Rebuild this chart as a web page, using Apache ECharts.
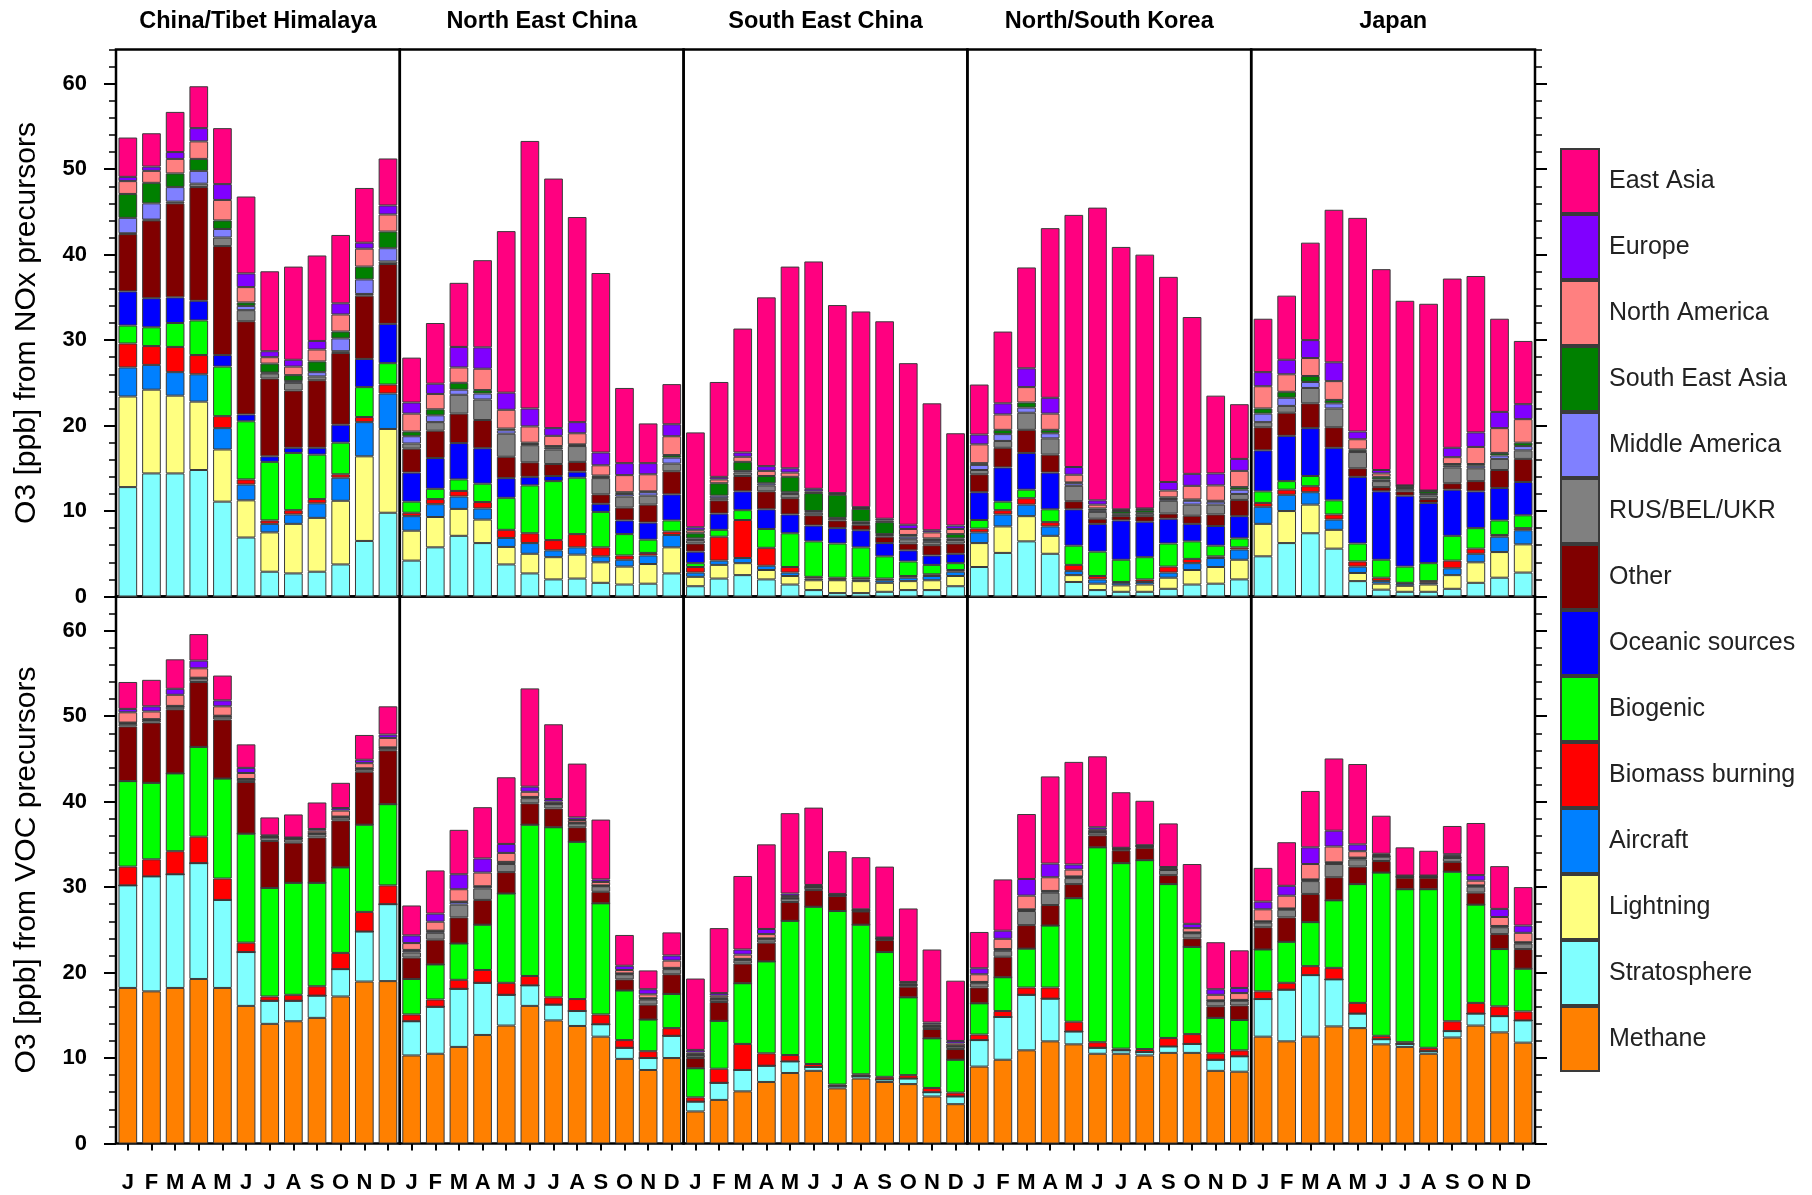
<!DOCTYPE html>
<html>
<head>
<meta charset="utf-8">
<script src="https://cdn.jsdelivr.net/npm/echarts@6/dist/echarts.min.js"></script>
<style>
  html, body { margin: 0; padding: 0; background: #ffffff; }
  #chart { width: 1812px; height: 1195px; }
</style>
</head>
<body>
<div id="chart"></div>
<script>
// ---- categories and labels ----
const MONTHS = ['Jan','Feb','Mar','Apr','May','Jun','Jul','Aug','Sep','Oct','Nov','Dec'];
const MONTH_LABELS = ['J','F','M','A','M','J','J','A','S','O','N','D'];
const REGIONS = ['China/Tibet Himalaya','North East China','South East China','North/South Korea','Japan'];
const ROW_TITLES = ['O3 [ppb] from NOx precursors','O3 [ppb] from VOC precursors'];
const Y_TICKS = [0,10,20,30,40,50,60];

// stacking order, bottom to top
const SOURCES = ['Methane','Stratosphere','Lightning','Aircraft','Biomass burning','Biogenic',
  'Oceanic sources','Other','RUS/BEL/UKR','Middle America','South East Asia','North America','Europe','East Asia'];
const COLORS = ['#FF8000','#80FFFF','#FFFF80','#0080FF','#FF0000','#00FF00',
  '#0000FF','#800000','#808080','#8080FF','#008000','#FF8080','#8000FF','#FF0080'];

const Z = [0,0,0,0,0,0,0,0,0,0,0,0];

// ---- O3 from NOx precursors (ppb), one row per source in SOURCES order ----
const noxChinaTibet = [
  Z,
  [12.8,14.4,14.4,14.8,11.1,6.9,2.9,2.7,2.9,3.75,6.5,9.8],
  [10.6,9.8,9.1,8.0,6.1,4.35,4.6,5.8,6.3,7.45,9.9,9.8],
  [3.4,2.9,2.75,3.2,2.5,1.85,1.0,1.1,1.7,2.7,4.0,4.15],
  [2.8,2.2,2.95,2.25,1.4,0.6,0.4,0.5,0.5,0.4,0.6,1.05],
  [2.1,2.2,2.8,4.05,5.8,6.8,6.85,6.7,5.2,3.7,3.5,2.5],
  [4.0,3.4,3.0,2.3,1.35,0.8,0.65,0.6,0.8,2.1,3.3,4.6],
  [6.7,9.1,11.0,13.3,12.75,10.9,9.1,6.7,7.9,8.4,7.4,7.0],
  [0.1,0.1,0.2,0.4,1.0,1.3,0.6,0.9,0.45,0.2,0.2,0.3],
  [1.8,1.9,1.7,1.5,1.0,0.5,0.1,0.2,0.5,1.5,1.7,1.55],
  [2.8,2.4,1.6,1.4,1.0,0.4,1.05,0.7,1.25,0.8,1.5,1.95],
  [1.5,1.4,1.7,2.05,2.4,1.8,0.75,1.0,1.4,2.0,2.1,2.0],
  [0.5,0.5,0.8,1.55,1.85,1.6,0.7,0.8,1.0,1.3,0.7,1.05],
  [4.6,3.9,4.7,4.9,6.55,9.0,9.35,10.9,10.0,8.0,6.4,5.5]
];
const noxNEChina = [
  Z,
  [4.2,5.75,7.1,6.25,3.75,2.7,2.0,2.1,1.6,1.4,1.5,2.7],
  [3.5,3.55,3.15,2.75,2.05,2.3,2.6,2.8,2.4,2.1,2.3,3.05],
  [1.7,1.5,1.45,1.3,1.05,1.25,0.8,0.85,0.7,0.8,1.0,1.45],
  [0.4,0.6,0.65,0.75,0.95,1.15,1.2,1.55,1.05,0.5,0.3,0.4],
  [1.3,1.2,1.35,2.15,3.75,5.6,6.9,6.6,4.15,2.5,1.55,1.3],
  [3.4,3.6,4.25,4.15,2.3,1.0,0.6,0.7,0.95,1.6,2.0,3.05],
  [2.8,3.2,3.45,3.3,2.5,1.7,1.4,1.15,1.1,1.5,2.1,2.7],
  [0.6,1.0,2.2,2.4,2.7,2.0,1.7,1.85,1.9,1.3,1.05,0.9],
  [0.85,0.8,0.6,0.7,0.4,0.15,0.2,0.1,0.15,0.3,0.4,0.7],
  [0.55,0.7,0.8,0.4,0.2,0.15,0.2,0.1,0.15,0.2,0.1,0.3],
  [2.1,1.8,1.8,2.5,2.2,1.9,1.2,1.3,1.2,2.0,2.0,2.2],
  [1.3,1.2,2.4,2.5,2.0,2.1,0.9,1.3,1.5,1.4,1.3,1.4],
  [5.25,7.1,7.5,10.2,18.9,31.3,29.2,24.0,21.0,8.8,4.65,4.7]
];
const noxSEChina = [
  Z,
  [1.2,2.1,2.5,2.0,1.4,0.75,0.4,0.4,0.55,0.75,0.75,1.2],
  [1.1,1.6,1.4,1.1,1.0,1.15,1.5,1.4,1.05,1.05,1.15,1.2],
  [0.5,0.5,0.6,0.5,0.4,0.2,0.1,0.2,0.3,0.4,0.5,0.5],
  [0.65,2.8,4.45,2.1,0.65,0.2,0.2,0.2,0.2,0.2,0.2,0.2],
  [0.45,0.8,1.15,2.2,3.95,4.15,4.0,3.55,2.6,1.7,1.1,0.8],
  [1.35,1.9,2.2,2.3,2.2,1.85,1.8,2.0,1.55,1.3,1.1,1.1],
  [0.95,1.55,1.8,2.1,1.9,1.2,0.9,0.65,0.75,0.8,1.2,1.2],
  [0.4,0.25,0.4,0.7,0.5,0.3,0.2,0.2,0.2,0.5,0.4,0.4],
  [0.2,0.3,0.2,0.25,0.2,0.2,0.1,0.15,0.1,0.3,0.2,0.2],
  [0.6,1.45,1.05,0.85,1.8,2.1,2.7,1.5,1.4,0.2,0.2,0.5],
  [0.35,0.45,0.6,0.6,0.5,0.2,0.1,0.1,0.2,0.7,0.7,0.6],
  [0.35,0.3,0.5,0.55,0.5,0.3,0.1,0.1,0.2,0.5,0.25,0.4],
  [11.1,11.1,14.5,19.75,23.6,26.6,22.0,22.9,23.1,18.9,14.85,10.8]
];
const noxKorea = [
  Z,
  [3.45,5.1,6.45,5.0,1.7,0.75,0.55,0.55,0.9,1.4,1.5,2.0],
  [2.8,3.1,2.95,2.1,0.8,0.75,0.75,0.85,1.3,1.7,1.95,2.3],
  [1.25,1.4,1.35,1.1,0.5,0.5,0.3,0.3,0.6,0.8,1.05,1.2],
  [0.45,0.5,0.75,0.5,0.7,0.4,0.1,0.3,0.7,0.5,0.2,0.25],
  [1.0,1.0,1.0,1.5,2.25,2.85,2.6,2.6,2.7,2.05,1.25,1.05],
  [3.25,4.0,4.3,4.3,4.25,3.25,4.6,4.15,2.9,2.05,2.3,2.6],
  [2.1,2.3,2.7,2.1,0.95,0.6,0.5,0.65,0.6,0.95,1.35,1.9],
  [0.5,0.8,2.0,1.9,1.8,0.8,0.2,0.3,1.5,1.3,1.15,0.7],
  [0.6,0.8,0.6,0.6,0.3,0.2,0.1,0.1,0.2,0.45,0.35,0.5],
  [0.2,0.5,0.6,0.4,0.1,0.2,0.3,0.3,0.2,0.15,0.1,0.3],
  [2.2,1.8,1.8,1.9,0.9,0.45,0.1,0.1,0.8,1.6,1.8,1.9],
  [1.15,1.3,2.2,1.85,0.9,0.5,0.1,0.1,1.0,1.4,1.4,1.4],
  [5.85,8.4,11.8,19.85,29.5,34.25,30.7,29.7,24.0,18.35,9.1,6.4]
];
const noxJapan = [
  Z,
  [4.7,6.25,7.4,5.6,1.8,0.8,0.55,0.55,0.9,1.6,2.2,2.8],
  [3.8,3.75,3.35,2.2,0.95,0.7,0.7,0.85,1.6,2.4,3.0,3.3],
  [2.0,1.9,1.45,1.2,0.75,0.3,0.25,0.2,0.8,1.0,1.8,1.65],
  [0.45,0.6,0.7,0.6,0.6,0.4,0.1,0.2,0.9,0.6,0.2,0.25],
  [1.35,1.0,1.2,1.65,2.1,2.1,1.9,2.1,2.9,2.4,1.7,1.5],
  [4.8,5.3,5.6,6.15,7.8,8.0,8.3,7.05,5.4,4.3,3.8,3.9],
  [2.7,2.7,2.9,2.4,1.0,0.5,0.5,0.45,0.75,1.2,2.1,2.7],
  [0.6,0.8,1.8,2.2,1.9,0.7,0.3,0.4,1.85,1.5,1.3,1.0],
  [1.0,0.95,0.7,0.6,0.15,0.2,0.1,0.2,0.2,0.3,0.4,0.5],
  [0.6,0.7,0.7,0.4,0.15,0.3,0.2,0.3,0.2,0.2,0.3,0.4],
  [2.6,2.05,2.1,2.2,1.2,0.4,0.05,0.05,0.8,2.0,2.9,2.75],
  [1.65,1.7,2.1,2.2,0.9,0.4,0.05,0.05,1.1,1.7,1.9,1.75],
  [6.25,7.5,11.4,17.85,25.0,23.5,21.6,21.85,19.8,18.3,10.9,7.4]
];

// ---- O3 from VOC precursors (ppb), one row per source in SOURCES order ----
const vocChinaTibet = [
  [18.2,17.8,18.2,19.25,18.2,16.1,14.0,14.3,14.7,17.2,18.95,19.0],
  [12.0,13.45,13.3,13.55,10.3,6.3,2.7,2.4,2.6,3.2,5.85,9.0],
  Z,
  Z,
  [2.2,2.0,2.7,3.1,2.5,1.1,0.5,0.7,1.1,1.9,2.3,2.2],
  [10.0,8.95,9.1,10.5,11.7,12.75,12.7,13.1,12.1,10.0,10.2,9.5],
  Z,
  [6.4,7.05,7.5,7.6,6.9,6.05,5.5,4.7,5.3,5.5,6.2,6.3],
  [0.3,0.3,0.3,0.4,0.35,0.25,0.4,0.4,0.4,0.35,0.3,0.25],
  [0.1,0.05,0.05,0.05,0.05,0.05,0.05,0.05,0.05,0.05,0.05,0.05],
  [0.05,0.05,0.05,0.05,0.05,0.05,0.05,0.05,0.05,0.05,0.05,0.05],
  [1.2,0.9,1.3,1.1,1.1,0.7,0.05,0.05,0.3,0.7,0.6,1.1],
  [0.4,0.6,0.7,0.9,0.7,0.6,0.1,0.05,0.2,0.3,0.4,0.4],
  [3.15,3.1,3.45,3.1,2.9,2.75,2.1,2.7,3.1,2.95,2.9,3.3]
];
const vocNEChina = [
  [10.3,10.5,11.3,12.7,13.8,16.1,14.4,13.75,12.5,9.9,8.6,10.0],
  [4.0,5.5,6.8,6.1,3.6,2.4,1.85,1.75,1.45,1.3,1.4,2.6],
  Z,
  Z,
  [0.8,0.85,1.05,1.5,1.4,1.1,0.85,1.4,1.15,0.9,0.8,0.9],
  [4.15,4.1,4.25,5.3,10.45,17.7,19.9,18.4,13.0,5.8,3.7,4.0],
  Z,
  [2.5,2.9,3.05,2.9,2.5,2.5,2.2,1.7,1.35,1.3,1.75,2.3],
  [0.6,0.8,1.5,1.35,0.95,0.6,0.5,0.45,0.65,0.6,0.6,0.6],
  [0.2,0.2,0.3,0.2,0.2,0.1,0.05,0.05,0.05,0.05,0.1,0.1],
  [0.1,0.05,0.05,0.05,0.05,0.05,0.05,0.05,0.05,0.05,0.05,0.05],
  [0.8,1.05,1.45,1.6,1.05,0.6,0.2,0.3,0.4,0.4,0.45,0.85],
  [0.9,0.95,1.75,1.65,1.05,0.6,0.3,0.3,0.3,0.5,0.6,0.6],
  [3.5,5.05,5.2,6.0,7.8,11.5,8.75,6.3,7.0,3.6,2.2,2.7]
];
const vocSEChina = [
  [3.75,5.1,6.1,7.2,8.25,8.5,6.45,7.6,7.2,6.95,5.5,4.6],
  [1.15,2.0,2.5,1.9,1.35,0.45,0.3,0.3,0.3,0.65,0.5,0.9],
  Z,
  Z,
  [0.5,1.65,3.05,1.45,0.75,0.35,0.15,0.2,0.3,0.4,0.5,0.45],
  [3.4,5.6,7.1,10.75,15.7,18.4,20.3,17.5,14.6,9.1,5.8,3.85],
  Z,
  [1.2,2.2,2.3,2.2,2.2,1.95,1.75,1.55,1.4,1.25,1.1,1.25],
  [0.3,0.3,0.4,0.4,0.4,0.3,0.05,0.05,0.1,0.15,0.25,0.3],
  [0.05,0.05,0.05,0.05,0.05,0.05,0.05,0.05,0.05,0.05,0.05,0.05],
  [0.1,0.15,0.1,0.05,0.05,0.05,0.05,0.05,0.05,0.05,0.05,0.05],
  [0.2,0.25,0.5,0.5,0.2,0.1,0.05,0.05,0.05,0.15,0.2,0.25],
  [0.3,0.3,0.6,0.6,0.3,0.1,0.05,0.05,0.05,0.15,0.2,0.3],
  [8.35,7.6,8.6,9.9,9.4,9.05,5.0,6.1,8.3,8.6,8.55,7.05]
];
const vocKorea = [
  [9.0,9.8,10.9,11.95,11.6,10.5,10.5,10.3,10.6,10.6,8.5,8.4],
  [3.1,5.0,6.5,5.0,1.5,0.7,0.4,0.4,0.75,1.05,1.3,1.8],
  Z,
  Z,
  [0.65,0.7,0.85,1.3,1.15,0.65,0.2,0.35,1.0,1.15,0.75,0.7],
  [3.65,3.95,4.55,7.25,14.45,22.8,21.7,22.1,18.0,10.2,4.15,3.55],
  Z,
  [1.85,2.4,2.75,2.4,1.65,1.4,1.5,1.45,1.05,1.0,1.35,1.7],
  [0.5,0.7,1.65,1.45,0.7,0.35,0.1,0.1,0.6,0.6,0.6,0.55],
  [0.1,0.15,0.15,0.15,0.15,0.05,0.05,0.05,0.05,0.05,0.05,0.05],
  [0.05,0.05,0.05,0.05,0.05,0.05,0.05,0.05,0.05,0.05,0.05,0.05],
  [0.9,1.2,1.6,1.6,0.8,0.2,0.05,0.05,0.1,0.5,0.65,0.8],
  [0.7,0.95,1.95,1.6,0.6,0.3,0.05,0.05,0.15,0.5,0.65,0.6],
  [4.25,6.0,7.6,10.2,12.0,8.3,6.5,5.2,5.1,7.0,5.5,4.4]
];
const vocJapan = [
  [12.5,11.95,12.5,13.7,13.5,11.6,11.3,10.5,12.4,13.8,13.0,11.8],
  [4.4,6.05,7.2,5.5,1.7,0.6,0.35,0.3,0.75,1.4,1.9,2.6],
  Z,
  Z,
  [0.9,0.8,1.05,1.35,1.25,0.4,0.2,0.4,1.15,1.25,1.15,1.05],
  [4.9,4.8,5.15,7.9,13.9,19.1,17.9,18.55,17.5,11.5,6.7,5.0],
  Z,
  [2.6,2.85,3.3,2.7,2.05,1.35,1.35,1.35,1.15,1.4,1.75,2.3],
  [0.55,0.9,1.5,1.55,0.85,0.5,0.05,0.05,0.45,0.7,0.8,0.65],
  [0.1,0.1,0.15,0.15,0.15,0.05,0.05,0.05,0.05,0.1,0.1,0.1],
  [0.05,0.05,0.05,0.05,0.05,0.05,0.05,0.05,0.05,0.05,0.05,0.05],
  [1.4,1.5,1.8,1.85,0.75,0.1,0.05,0.05,0.15,0.55,1.05,1.1],
  [0.9,1.15,1.95,1.85,0.8,0.15,0.05,0.05,0.2,0.65,0.95,0.85],
  [3.95,5.1,6.6,8.45,9.4,4.45,3.3,2.9,3.3,6.1,5.0,4.5]
];

const PANELS = [
  [noxChinaTibet, noxNEChina, noxSEChina, noxKorea, noxJapan],
  [vocChinaTibet, vocNEChina, vocSEChina, vocKorea, vocJapan]
];

// ---- layout ----
const FONT = '"Liberation Sans", Arial, Helvetica, sans-serif';
const LEFT = 116, PW = 283.8, PH = 547, TOPS = [49.5, 596.5], YMAX = 64;
const NCOL = 5;

const grids = [], xAxes = [], yAxes = [], series = [];
const extraAxes = [];

for (let r = 0; r < 2; r++) {
  for (let c = 0; c < NCOL; c++) {
    const g = r * NCOL + c;
    grids.push({
      left: LEFT + c * PW, top: TOPS[r], width: PW, height: PH,
      show: true, borderColor: '#000', borderWidth: 2.5, backgroundColor: 'transparent'
    });
    xAxes.push({
      type: 'category', gridIndex: g, data: MONTHS,
      axisLine: { show: false },
      axisTick: { show: r === 1, inside: false, length: 7, alignWithLabel: true, interval: 0,
        lineStyle: { color: '#000', width: 2 } },
      axisLabel: { show: r === 1, interval: 0, hideOverlap: false,
        formatter: (v, i) => MONTH_LABELS[i],
        fontFamily: FONT, fontSize: 22, fontWeight: 'bold', color: '#000', margin: 28 }
    });
    yAxes.push({
      type: 'value', gridIndex: g, position: 'left', min: 0, max: YMAX, interval: 10,
      axisLine: { show: false }, splitLine: { show: false },
      axisTick: { show: c === 0, length: 12, customValues: Y_TICKS,
        lineStyle: { color: '#000', width: 2 } },
      axisLabel: { show: c === 0, customValues: Y_TICKS,
        formatter: v => (v % 10 === 0 && v <= 60 ? String(v) : ''),
        fontFamily: FONT, fontSize: 22, fontWeight: 'bold', color: '#000', margin: 29 }
    });
    if (c === 0 || c === NCOL - 1) {
      const side = c === 0 ? 'left' : 'right';
      // short ticks every 2 ppb
      extraAxes.push({
        type: 'value', gridIndex: g, position: side, min: 0, max: YMAX, interval: 2,
        axisLine: { show: false }, splitLine: { show: false }, axisLabel: { show: false },
        axisTick: { show: true, length: 7, lineStyle: { color: '#000', width: 1.5 } }
      });
    }
    if (c === NCOL - 1) {
      // long ticks every 10 ppb on the right edge
      extraAxes.push({
        type: 'value', gridIndex: g, position: 'right', min: 0, max: YMAX, interval: 10,
        axisLine: { show: false }, splitLine: { show: false }, axisLabel: { show: false },
        axisTick: { show: true, length: 12, customValues: Y_TICKS,
          lineStyle: { color: '#000', width: 2 } }
      });
    }
    const panel = PANELS[r][c];
    SOURCES.forEach((name, k) => {
      series.push({
        type: 'bar', name: name, stack: 'panel' + g,
        xAxisIndex: g, yAxisIndex: g,
        data: panel[k],
        barCategoryGap: '21%',
        itemStyle: { color: COLORS[k], borderColor: '#3a3a3a', borderWidth: 1 },
        emphasis: { disabled: true },
        animation: false
      });
    });
  }
}

const graphics = [];
REGIONS.forEach((name, c) => {
  graphics.push({
    type: 'text', x: LEFT + (c + 0.5) * PW, y: 22,
    style: { text: name, fontFamily: FONT, fontSize: 23.5, fontWeight: 'bold', fill: '#000',
      textAlign: 'center', textVerticalAlign: 'middle' }
  });
});
ROW_TITLES.forEach((txt, r) => {
  graphics.push({
    type: 'text', x: 27, y: TOPS[r] + PH / 2, rotation: Math.PI / 2,
    style: { text: txt, fontFamily: FONT, fontSize: 30, fill: '#000',
      textAlign: 'center', textVerticalAlign: 'middle' }
  });
});

const chart = echarts.init(document.getElementById('chart'), null, { renderer: 'canvas' });
chart.setOption({
  backgroundColor: '#ffffff',
  animation: false,
  grid: grids,
  xAxis: xAxes,
  yAxis: yAxes.concat(extraAxes),
  series: series,
  legend: {
    orient: 'vertical', left: 1555, top: 143,
    data: SOURCES.slice().reverse(),
    icon: 'rect', itemWidth: 38, itemHeight: 64, itemGap: 0,
    selectedMode: false,
    textStyle: { fontFamily: FONT, fontSize: 25, color: '#222', padding: [0, 0, 0, 5] }
  },
  graphic: graphics
});
</script>
</body>
</html>
